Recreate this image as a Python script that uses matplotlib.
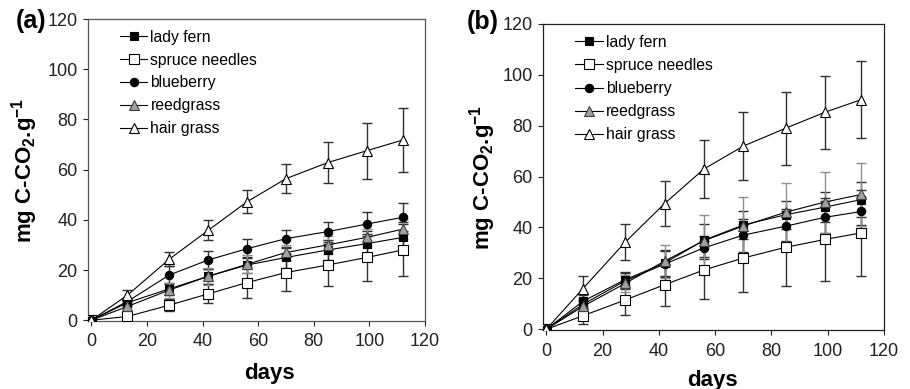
import matplotlib
matplotlib.use("Agg")
import matplotlib.pyplot as plt

plt.rcParams['font.family'] = ['Liberation Sans', 'DejaVu Sans']
plt.rcParams['mathtext.fontset'] = 'custom'
plt.rcParams['mathtext.rm'] = 'Liberation Sans:bold'
plt.rcParams['mathtext.bf'] = 'Liberation Sans:bold'

days = [0, 13, 28, 42, 56, 70, 85, 99, 112]
labels = ['lady fern', 'spruce needles', 'blueberry', 'reedgrass', 'hair grass']

# panel (a)
lady_a = [0, 7, 12.5, 17.5, 22, 25, 28, 30.5, 33]
lady_a_err = [0, 1.5, 2.5, 3, 3, 4, 4, 5, 6]
spruce_a = [0, 1.5, 6, 10.5, 15, 19, 22, 25, 28]
spruce_a_err = [0, 0.5, 2.3, 3.8, 6.2, 7.5, 8.3, 9.5, 10.5]
blue_a = [0, 7.5, 18, 24, 28.5, 32.5, 35.3, 38.3, 41]
blue_a_err = [0, 1.2, 3.5, 3.5, 3.8, 3.6, 4, 4.8, 5.6]
reed_a = [0, 5.5, 12, 17.5, 22.3, 27, 30, 33, 36.3]
reed_a_err = [0, 1.5, 3, 3.5, 3.5, 3, 3.5, 3.5, 4]
hair_a = [0, 10, 24.3, 35.8, 47.2, 56.4, 62.8, 67.5, 71.8]
hair_a_err = [0, 2.2, 2.7, 4, 4.5, 5.8, 8.3, 11.2, 12.7]

# panel (b)
lady_b = [0, 11, 19.5, 26, 35, 41, 45, 48, 51]
lady_b_err = [0, 2.5, 3, 5, 6.5, 5.6, 5.5, 6, 6.8]
spruce_b = [0, 5.3, 11.5, 17.5, 23.3, 28, 32.2, 35.3, 37.9]
spruce_b_err = [0, 3.3, 5.8, 8.2, 11.5, 13.3, 15.1, 16.2, 17]
blue_b = [0, 9.8, 19, 25.6, 32, 37, 40.5, 44, 46.3]
blue_b_err = [0, 2, 3, 5, 4.5, 6.5, 5.8, 6.3, 5.5]
reed_b = [0, 9, 18, 26.8, 34.8, 40.6, 46, 50, 53]
reed_b_err = [0, 2.5, 3.5, 6.5, 10, 11.2, 11.6, 12, 12.5]
hair_b = [0, 16, 34.2, 49.4, 63, 72, 79, 85.3, 90.3]
hair_b_err = [0, 4.8, 7.1, 9, 11.4, 13.4, 14.4, 14.3, 15.3]

styles = [
    dict(marker='s', mfc='black', mec='black', ms=5.5),
    dict(marker='s', mfc='white', mec='black', ms=6.5),
    dict(marker='o', mfc='black', mec='black', ms=6),
    dict(marker='^', mfc='#a0a0a0', mec='#404040', ms=7),
    dict(marker='^', mfc='white', mec='black', ms=7.5),
]
ecolors = ['#303030', '#303030', '#303030', '#909090', '#303030']

fig = plt.figure(figsize=(9.1, 3.89), dpi=100)
ax_a = fig.add_axes([88/910, 1-321/389, (425-88)/910, (321-19)/389])
ax_b = fig.add_axes([543/910, 1-330/389, (884-543)/910, (330-24)/389])

panels = [
    (ax_a, [lady_a, spruce_a, blue_a, reed_a, hair_a],
     [lady_a_err, spruce_a_err, blue_a_err, reed_a_err, hair_a_err],
     (-0.142, 0.5), (0.537, -0.14), '#555555', 0.975, 0.5),
    (ax_b, [lady_b, spruce_b, blue_b, reed_b, hair_b],
     [lady_b_err, spruce_b_err, blue_b_err, reed_b_err, hair_b_err],
     (-0.132, 0.5), (0.496, -0.13), '#222222', 0.975, 0.52),
]

for ax, ys, errs, ylc, xlc, spc, ly, ls in panels:
    for y, e, ec in zip(ys, errs, ecolors):
        ax.errorbar(days, y, yerr=e, fmt='none', ecolor=ec, elinewidth=1.0,
                    capsize=3.5, capthick=1.0, zorder=2)
    for y, st, lab in zip(ys, styles, labels):
        ax.plot(days, y, color='black', lw=0.8, label=lab, zorder=3,
                marker=st['marker'], markerfacecolor=st['mfc'],
                markeredgecolor=st['mec'], markersize=st['ms'],
                markeredgewidth=0.8)
    ax.set_xlim(-1.2, 120)
    ax.set_ylim(-0.3, 120)
    ax.set_xticks(range(0, 121, 20))
    ax.set_yticks(range(0, 121, 20))
    ax.tick_params(direction='out', length=3.5, width=0.8, labelsize=13,
                   colors='#222222')
    ax.tick_params(axis='x', pad=5.5)
    ax.tick_params(axis='y', pad=4)
    for s in ax.spines.values():
        s.set_linewidth(0.9)
        s.set_color(spc)
    ax.set_xlabel('days', fontsize=16, fontweight='bold', va='top')
    ax.set_ylabel(r'mg C-CO$_\mathbf{2}$.g$^\mathbf{-1}$', fontsize=16,
                  fontweight='bold')
    ax.yaxis.set_label_coords(*ylc)
    ax.xaxis.set_label_coords(*xlc)
    ax.legend(loc='upper left', bbox_to_anchor=(0.085, ly), frameon=False,
              fontsize=11.3, handlelength=1.75, handletextpad=0.2,
              labelspacing=ls, borderaxespad=0, borderpad=0.2)

fig.text(16/910, 1-21/389, '(a)', fontsize=18, fontweight='bold', va='center', ha='left')
fig.text(467/910, 1-22/389, '(b)', fontsize=18, fontweight='bold', va='center', ha='left')

fig.savefig('out.png', dpi=100)
